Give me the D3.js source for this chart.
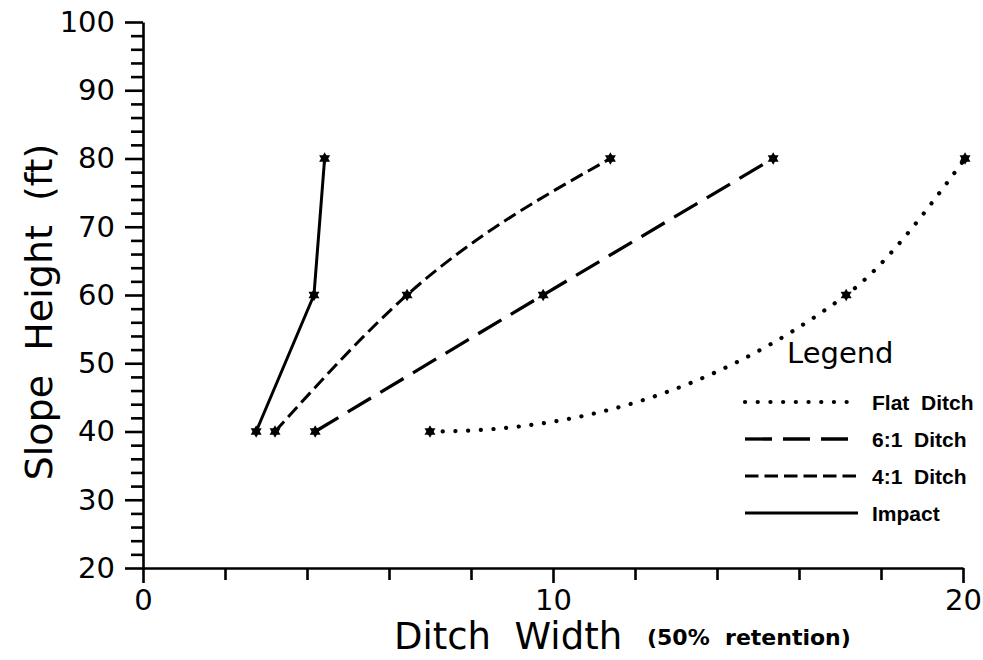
<!DOCTYPE html>
<html><head><meta charset="utf-8">
<script src="https://cdn.jsdelivr.net/npm/d3@7"></script>
<style>body{margin:0;background:#fff}svg{display:block}</style>
</head><body><svg id="c" width="983" height="660"></svg>
<script>
// ---- data ----
const heights = [40, 60, 80];
const flatDitch = [7.0, 17.15, 20.05];
const ditch6to1 = [4.2, 9.76, 15.37];
const ditch4to1 = [3.22, 6.44, 11.4];
const impact = [2.76, 4.17, 4.43];
const seriesNames = ["Flat  Ditch", "6:1  Ditch", "4:1  Ditch", "Impact"];
const seriesValues = [flatDitch, ditch6to1, ditch4to1, impact];
const yMajorTicks = [20, 30, 40, 50, 60, 70, 80, 90, 100];
const yMinorTicks = [22,24,26,28,32,34,36,38,42,44,46,48,52,54,56,58,62,64,66,68,72,74,76,78,82,84,86,88,92,94,96,98];
const xMajorTicks = [0, 10, 20];
const xMinorTicks = [2, 4, 6, 8, 12, 14, 16, 18];
const yTitle = "Slope  Height  (ft)";
const xTitle = "Ditch  Width";
const xSubTitle = "(50%  retention)";
const legendTitle = "Legend";

// ---- styles ----
const styles = {
  "Flat  Ditch": {dash: "0.1,12.6", width: 4.2, cap: "round", curve: "flat"},
  "6:1  Ditch": {dash: "27,11", width: 3.3, cap: "butt", curve: "mono"},
  "4:1  Ditch": {dash: "13.5,6", width: 3, cap: "butt", curve: "mono"},
  "Impact": {dash: null, width: 3, cap: "butt", curve: "linear"}
};

const svg = d3.select("#c");
const x = d3.scaleLinear().domain([0, 20]).range([143, 963]);
const y = d3.scaleLinear().domain([20, 100]).range([568, 22]);
const FONT = "DejaVu Sans, Liberation Sans, sans-serif";

// custom curve: horizontal start tangent, averaged secant slopes inside
function curveFlatStart(context) {
  let pts;
  return {
    areaStart() {}, areaEnd() {},
    lineStart() { pts = []; },
    point(px, py) { pts.push([+px, +py]); },
    lineEnd() {
      const n = pts.length; if (!n) return;
      const s = [];
      for (let i = 0; i < n - 1; i++) s.push((pts[i+1][1] - pts[i][1]) / (pts[i+1][0] - pts[i][0]));
      const t = new Array(n).fill(0);
      for (let i = 1; i < n - 1; i++) t[i] = (s[i-1] + s[i]) / 2;
      if (n > 1) t[n-1] = (3 * s[n-2] - t[n-2]) / 2;
      context.moveTo(pts[0][0], pts[0][1]);
      for (let i = 0; i < n - 1; i++) {
        const [x0, y0] = pts[i], [x1, y1] = pts[i+1];
        const h = (x1 - x0) / 3;
        context.bezierCurveTo(x0 + h, y0 + h * t[i], x1 - h, y1 - h * t[i+1], x1, y1);
      }
    }
  };
}
const curves = {flat: curveFlatStart, mono: d3.curveMonotoneX, linear: d3.curveLinear};

// ---- axes ----
function styleAxis(g) {
  g.selectAll("line").attr("stroke", "#000").attr("stroke-width", 2.6);
  g.selectAll("path").attr("stroke", "#000").attr("stroke-width", 2.6);
  g.selectAll("text").attr("fill", "#000").style("font-family", FONT).style("font-size", "29px");
}
const ax0 = x(0);
svg.append("g").attr("transform", `translate(${ax0},0)`)
  .call(d3.axisLeft(y).tickValues(yMinorTicks).tickSize(12).tickFormat("").tickSizeOuter(0))
  .call(g => g.select(".domain").remove()).call(styleAxis);
svg.append("g").attr("transform", `translate(${ax0},0)`)
  .call(d3.axisLeft(y).tickValues(yMajorTicks).tickSize(18).tickPadding(10).tickSizeOuter(0).tickFormat(d3.format("d")))
  .call(styleAxis);
const ay0 = y(20);
svg.append("g").attr("transform", `translate(0,${ay0})`)
  .call(d3.axisBottom(x).tickValues(xMinorTicks).tickSize(12).tickFormat("").tickSizeOuter(0))
  .call(g => g.select(".domain").remove()).call(styleAxis);
svg.append("g").attr("transform", `translate(0,${ay0})`)
  .call(d3.axisBottom(x).tickValues(xMajorTicks).tickSize(15).tickPadding(6).tickSizeOuter(0).tickFormat(d3.format("d")))
  .call(styleAxis);

// ---- titles ----
svg.append("text").attr("transform", `translate(52,312) rotate(-90)`)
  .attr("text-anchor", "middle").style("white-space", "pre")
  .style("font-family", FONT).style("font-size", "38px").text(yTitle);
svg.append("text").attr("x", 394).attr("y", 649).style("white-space", "pre")
  .style("font-family", FONT).style("font-size", "37px").text(xTitle);
svg.append("text").attr("x", 647).attr("y", 645).style("white-space", "pre")
  .style("font-family", "DejaVu Sans").style("font-weight", "bold").style("font-size", "22px").text(xSubTitle);

// ---- series ----
const star1 = d3.symbol(d3.symbolTriangle).size(52)();
seriesNames.forEach((name, i) => {
  const st = styles[name];
  const pts = seriesValues[i].map((v, j) => [v, heights[j]]);
  const line = d3.line().x(d => x(d[0])).y(d => y(d[1])).curve(curves[st.curve]);
  svg.append("path").attr("d", line(pts)).attr("fill", "none").attr("stroke", "#000")
    .attr("stroke-width", st.width).attr("stroke-linecap", st.cap)
    .attr("stroke-dasharray", st.dash);
  const m = svg.append("g").selectAll("g").data(pts).join("g")
    .attr("transform", d => `translate(${x(d[0])},${y(d[1])})`);
  m.append("path").attr("d", star1).attr("fill", "#000");
  m.append("path").attr("d", star1).attr("transform", "rotate(180)").attr("fill", "#000");
});

// ---- legend ----
svg.append("text").attr("x", 787).attr("y", 363).style("font-family", FONT)
  .style("font-size", "29px").text(legendTitle);
const rowY = d3.scalePoint().domain(seriesNames).range([402, 513]);
const lg = svg.append("g").selectAll("g").data(seriesNames).join("g")
  .attr("transform", d => `translate(0,${rowY(d)})`);
lg.append("line").attr("x1", 745).attr("x2", 858).attr("stroke", "#000")
  .attr("stroke-width", d => styles[d].width).attr("stroke-linecap", d => styles[d].cap)
  .attr("stroke-dasharray", d => styles[d].dash);
lg.append("text").attr("x", 872).attr("y", 8).style("white-space", "pre")
  .style("font-family", "Liberation Sans Narrow, Liberation Sans, sans-serif")
  .style("font-weight", "bold").style("font-size", "21px").text(d => d);
</script></body></html>
